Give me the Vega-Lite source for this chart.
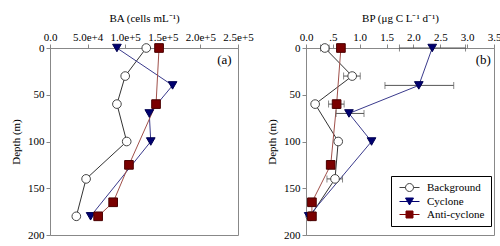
{
  "$schema": "https://vega.github.io/schema/vega-lite/v6.json",
  "padding": {"left": 10, "top": 11, "right": 2, "bottom": 2},
  "config": {
    "font": "Liberation Serif",
    "view": {"stroke": "#888", "strokeWidth": 1},
    "axis": {"grid": false, "domainColor": "#888", "tickColor": "#888", "labelFont": "Liberation Serif", "titleFont": "Liberation Serif", "labelFontSize": 11, "titleFontSize": 11, "titleFontWeight": "normal", "labelColor": "#000", "titleColor": "#000", "tickSize": 4, "labelPadding": 2, "labelOverlap": false, "labelBound": false, "labelFlush": false},
    "legend": {"labelFont": "Liberation Serif", "labelFontSize": 11, "labelColor": "#000"}
  },
  "datasets": {
    "ba": [
      {"series": "Background", "depth": 0, "value": 128000},
      {"series": "Background", "depth": 30, "value": 100000},
      {"series": "Background", "depth": 60, "value": 89000},
      {"series": "Background", "depth": 100, "value": 102000},
      {"series": "Background", "depth": 140, "value": 48000},
      {"series": "Background", "depth": 180, "value": 35000},
      {"series": "Cyclone", "depth": 0, "value": 89000},
      {"series": "Cyclone", "depth": 40, "value": 163000},
      {"series": "Cyclone", "depth": 70, "value": 132000},
      {"series": "Cyclone", "depth": 100, "value": 134000},
      {"series": "Cyclone", "depth": 180, "value": 54000},
      {"series": "Anti-cyclone", "depth": 0, "value": 145000},
      {"series": "Anti-cyclone", "depth": 60, "value": 141000},
      {"series": "Anti-cyclone", "depth": 125, "value": 105000},
      {"series": "Anti-cyclone", "depth": 165, "value": 84000},
      {"series": "Anti-cyclone", "depth": 180, "value": 64000}
    ],
    "bp": [
      {"series": "Background", "depth": 0, "value": 0.35, "lo": 0.27, "hi": 0.43},
      {"series": "Background", "depth": 30, "value": 0.86, "lo": 0.70, "hi": 1.01},
      {"series": "Background", "depth": 60, "value": 0.17},
      {"series": "Background", "depth": 100, "value": 0.60, "lo": 0.55, "hi": 0.65},
      {"series": "Background", "depth": 140, "value": 0.54, "lo": 0.39, "hi": 0.68},
      {"series": "Background", "depth": 180, "value": 0.08},
      {"series": "Cyclone", "depth": 0, "value": 2.35, "lo": 1.74, "hi": 2.97},
      {"series": "Cyclone", "depth": 40, "value": 2.10, "lo": 1.47, "hi": 2.75},
      {"series": "Cyclone", "depth": 70, "value": 0.80, "lo": 0.56, "hi": 1.08},
      {"series": "Cyclone", "depth": 100, "value": 1.22},
      {"series": "Cyclone", "depth": 180, "value": 0.05},
      {"series": "Anti-cyclone", "depth": 0, "value": 0.65},
      {"series": "Anti-cyclone", "depth": 60, "value": 0.57, "lo": 0.42, "hi": 0.71},
      {"series": "Anti-cyclone", "depth": 125, "value": 0.46},
      {"series": "Anti-cyclone", "depth": 165, "value": 0.11},
      {"series": "Anti-cyclone", "depth": 180, "value": 0.11}
    ],
    "labels": [
      {"panel": "a", "label": "(a)", "x": 232000, "depth": 13},
      {"panel": "b", "label": "(b)", "x": 3.3, "depth": 13}
    ]
  },
  "spacing": 12,
  "resolve": {"scale": {"color": "independent", "shape": "independent", "fill": "independent", "stroke": "independent"}},
  "hconcat": [
    {
      "width": 188,
      "height": 187,
      "resolve": {"scale": {"color": "independent", "shape": "independent", "fill": "independent", "stroke": "independent"}},
      "layer": [
        {
          "data": {"name": "ba"},
          "mark": {"type": "line", "strokeWidth": 1},
          "encoding": {
            "x": {"field": "value", "type": "quantitative", "scale": {"domain": [0, 250000], "nice": false}, "axis": {"orient": "top", "title": "BA (cells mL⁻¹)", "values": [0, 50000, 100000, 150000, 200000, 250000], "labelExpr": "datum.value == 0 ? '0.0' : format(datum.value, '.1e')", "titlePadding": 8, "labelOverlap": false, "tickCount": 6}},
            "y": {"field": "depth", "type": "quantitative", "scale": {"domain": [0, 200], "reverse": true, "nice": false}, "axis": {"title": "Depth (m)", "values": [0, 50, 100, 150, 200], "titlePadding": 6, "labelOverlap": false}},
            "color": {"field": "series", "type": "nominal", "scale": {"domain": ["Background", "Cyclone", "Anti-cyclone"], "range": ["#333333", "#3a3a8c", "#a0504a"]}, "legend": null},
            "order": {"field": "depth"}
          }
        },
        {
          "data": {"name": "ba"},
          "mark": {"type": "point", "filled": true, "size": 75, "strokeWidth": 1, "opacity": 1},
          "encoding": {
            "x": {"field": "value", "type": "quantitative"},
            "y": {"field": "depth", "type": "quantitative"},
            "shape": {"field": "series", "type": "nominal", "scale": {"domain": ["Background", "Cyclone", "Anti-cyclone"], "range": ["circle", "triangle-down", "square"]}, "legend": null},
            "fill": {"field": "series", "type": "nominal", "scale": {"domain": ["Background", "Cyclone", "Anti-cyclone"], "range": ["#ffffff", "#000070", "#7a0000"]}, "legend": null},
            "stroke": {"field": "series", "type": "nominal", "scale": {"domain": ["Background", "Cyclone", "Anti-cyclone"], "range": ["#444444", "#000050", "#4a0000"]}, "legend": null}
          }
        },
        {
          "data": {"name": "labels"},
          "transform": [{"filter": "datum.panel == 'a'"}],
          "mark": {"type": "text", "fontSize": 13, "font": "Liberation Serif", "color": "#000"},
          "encoding": {
            "x": {"field": "x", "type": "quantitative"},
            "y": {"field": "depth", "type": "quantitative"},
            "text": {"field": "label"}
          }
        }
      ]
    },
    {
      "width": 188,
      "height": 187,
      "resolve": {"scale": {"color": "independent", "shape": "independent", "fill": "independent", "stroke": "independent"}},
      "layer": [
        {
          "data": {"name": "bp"},
          "mark": {"type": "line", "strokeWidth": 1},
          "encoding": {
            "x": {"field": "value", "type": "quantitative", "scale": {"domain": [0, 3.5], "nice": false}, "axis": {"orient": "top", "title": "BP (μg C L⁻¹ d⁻¹)", "values": [0, 0.5, 1, 1.5, 2, 2.5, 3, 3.5], "labelExpr": "datum.value == 0.5 ? '.5' : format(datum.value, '.1f')", "titlePadding": 8, "labelOverlap": false, "tickCount": 8}},
            "y": {"field": "depth", "type": "quantitative", "scale": {"domain": [0, 200], "reverse": true, "nice": false}, "axis": {"title": "Depth (m)", "values": [0, 50, 100, 150, 200], "titlePadding": 6, "labelOverlap": false}},
            "color": {"field": "series", "type": "nominal", "scale": {"domain": ["Background", "Cyclone", "Anti-cyclone"], "range": ["#333333", "#3a3a8c", "#a0504a"]}, "legend": null},
            "order": {"field": "depth"}
          }
        },
        {
          "data": {"name": "bp"},
          "transform": [{"filter": "isValid(datum.lo)"}],
          "mark": {"type": "errorbar", "color": "#555555", "thickness": 1, "ticks": {"size": 7}},
          "encoding": {
            "x": {"field": "lo", "type": "quantitative", "axis": {"orient": "top", "title": "BP (μg C L⁻¹ d⁻¹)", "values": [0, 0.5, 1, 1.5, 2, 2.5, 3, 3.5], "labelExpr": "datum.value == 0.5 ? '.5' : format(datum.value, '.1f')", "titlePadding": 8, "labelOverlap": false, "tickCount": 8}},
            "x2": {"field": "hi"},
            "y": {"field": "depth", "type": "quantitative", "axis": {"title": "Depth (m)", "values": [0, 50, 100, 150, 200], "titlePadding": 6, "labelOverlap": false}}
          }
        },
        {
          "data": {"name": "bp"},
          "mark": {"type": "point", "filled": true, "size": 75, "strokeWidth": 1, "opacity": 1},
          "encoding": {
            "x": {"field": "value", "type": "quantitative"},
            "y": {"field": "depth", "type": "quantitative"},
            "shape": {"field": "series", "type": "nominal", "scale": {"domain": ["Background", "Cyclone", "Anti-cyclone"], "range": ["circle", "triangle-down", "square"]}, "legend": null},
            "fill": {"field": "series", "type": "nominal", "scale": {"domain": ["Background", "Cyclone", "Anti-cyclone"], "range": ["#ffffff", "#000070", "#7a0000"]}, "legend": null},
            "stroke": {"field": "series", "type": "nominal", "scale": {"domain": ["Background", "Cyclone", "Anti-cyclone"], "range": ["#444444", "#000050", "#4a0000"]}, "legend": null}
          }
        },
        {
          "data": {"name": "bp"},
          "transform": [{"filter": "false"}],
          "mark": {"type": "point", "filled": true, "size": 100, "strokeWidth": 1, "opacity": 1},
          "encoding": {
            "x": {"field": "value", "type": "quantitative"},
            "y": {"field": "depth", "type": "quantitative"},
            "shape": {"field": "series", "type": "nominal", "scale": {"domain": ["Background", "Cyclone", "Anti-cyclone"], "range": ["M-0.6,0H0.6M2.2,0H3.4M2.2,0A0.8,0.8,0,1,1,0.6,0A0.8,0.8,0,1,1,2.2,0Z", "M-0.6,0H3.4M0.6,-0.7L2.2,-0.7L1.4,0.7Z", "M-0.6,0H3.4M0.7,-0.7H2.1V0.7H0.7Z"]}, "legend": {"title": null, "orient": "none", "legendX": 85, "legendY": 128, "fillColor": "white", "strokeColor": "#000", "padding": 6, "labelOffset": 19, "rowPadding": 1, "symbolSize": 100, "symbolStrokeWidth": 1}},
            "fill": {"field": "series", "type": "nominal", "scale": {"domain": ["Background", "Cyclone", "Anti-cyclone"], "range": ["#ffffff", "#000070", "#7a0000"]}, "legend": {"title": null, "orient": "none", "legendX": 85, "legendY": 128, "fillColor": "white", "strokeColor": "#000", "padding": 6, "labelOffset": 19, "rowPadding": 1, "symbolSize": 100, "symbolStrokeWidth": 1}},
            "stroke": {"field": "series", "type": "nominal", "scale": {"domain": ["Background", "Cyclone", "Anti-cyclone"], "range": ["#444444", "#000070", "#7a0000"]}, "legend": {"title": null, "orient": "none", "legendX": 85, "legendY": 128, "fillColor": "white", "strokeColor": "#000", "padding": 6, "labelOffset": 19, "rowPadding": 1, "symbolSize": 100, "symbolStrokeWidth": 1}}
          }
        },
        {
          "data": {"name": "labels"},
          "transform": [{"filter": "datum.panel == 'b'"}],
          "mark": {"type": "text", "fontSize": 13, "font": "Liberation Serif", "color": "#000"},
          "encoding": {
            "x": {"field": "x", "type": "quantitative"},
            "y": {"field": "depth", "type": "quantitative"},
            "text": {"field": "label"}
          }
        }
      ]
    }
  ]
}
